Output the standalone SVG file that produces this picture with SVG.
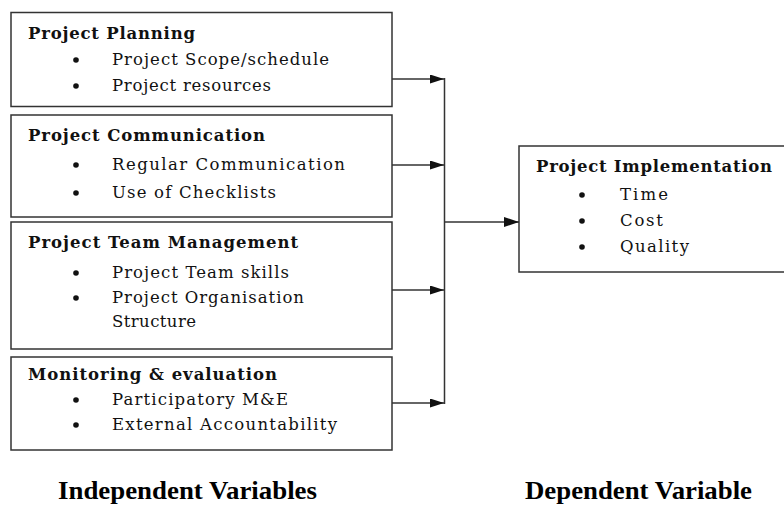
<svg xmlns="http://www.w3.org/2000/svg" width="784" height="506" viewBox="0 0 784 506">
<style>
.box{fill:#fff;stroke:#333;stroke-width:1.5}
.t{font-family:"DejaVu Serif","Liberation Serif",serif;font-size:16.5px;fill:#111}
.b{font-weight:bold}
.lbl{font-family:"Liberation Serif","Times New Roman",serif;font-size:25px;font-weight:bold;fill:#000}
.dot{fill:#111}
.ln{stroke:#333;stroke-width:1.5;fill:none}
</style>
<defs>
<marker id="ah" viewBox="0 0 14 9" refX="14" refY="4.5" markerWidth="14" markerHeight="9" markerUnits="userSpaceOnUse" orient="auto">
<path d="M0,0 L14,4.5 L0,9 z" fill="#111"/>
</marker>
<marker id="ah2" viewBox="0 0 15 10" refX="15" refY="5" markerWidth="15" markerHeight="10" markerUnits="userSpaceOnUse" orient="auto">
<path d="M0,0 L15,5 L0,10 z" fill="#111"/>
</marker>
</defs>
<rect width="784" height="506" fill="#fff"/>
<g id="planning">
<rect class="box" x="11" y="12.5" width="381" height="94"/>
<text class="t b" x="28" y="39" textLength="167" lengthAdjust="spacing">Project Planning</text>
<circle class="dot" cx="76" cy="60" r="2.8"/>
<text class="t" x="112" y="65" textLength="217" lengthAdjust="spacing">Project Scope/schedule</text>
<circle class="dot" cx="76" cy="86" r="2.8"/>
<text class="t" x="112" y="91" textLength="159" lengthAdjust="spacing">Project resources</text>
</g>
<g id="communication">
<rect class="box" x="11" y="115" width="381" height="102"/>
<text class="t b" x="28" y="141" textLength="237" lengthAdjust="spacing">Project Communication</text>
<circle class="dot" cx="76" cy="165" r="2.8"/>
<text class="t" x="112" y="170" textLength="233" lengthAdjust="spacing">Regular Communication</text>
<circle class="dot" cx="76" cy="193" r="2.8"/>
<text class="t" x="112" y="198" textLength="164" lengthAdjust="spacing">Use of Checklists</text>
</g>
<g id="team">
<rect class="box" x="11" y="222" width="381" height="127"/>
<text class="t b" x="28" y="248" textLength="270" lengthAdjust="spacing">Project Team Management</text>
<circle class="dot" cx="76" cy="273" r="2.8"/>
<text class="t" x="112" y="278" textLength="177" lengthAdjust="spacing">Project Team skills</text>
<circle class="dot" cx="76" cy="298" r="2.8"/>
<text class="t" x="112" y="303" textLength="192" lengthAdjust="spacing">Project Organisation</text>
<text class="t" x="112" y="327" textLength="84" lengthAdjust="spacing">Structure</text>
</g>
<g id="monitoring">
<rect class="box" x="11" y="357" width="381" height="93"/>
<text class="t b" x="28" y="380" textLength="249" lengthAdjust="spacing">Monitoring &amp; evaluation</text>
<circle class="dot" cx="76" cy="400" r="2.8"/>
<text class="t" x="112" y="405" textLength="176" lengthAdjust="spacing">Participatory M&amp;E</text>
<circle class="dot" cx="76" cy="425" r="2.8"/>
<text class="t" x="112" y="430" textLength="225" lengthAdjust="spacing">External Accountability</text>
</g>
<g id="implementation">
<rect class="box" x="519" y="146" width="280" height="126"/>
<text class="t b" x="536" y="172" textLength="236" lengthAdjust="spacing">Project Implementation</text>
<circle class="dot" cx="582" cy="195" r="2.8"/>
<text class="t" x="620" y="200" textLength="48" lengthAdjust="spacing">Time</text>
<circle class="dot" cx="582" cy="221" r="2.8"/>
<text class="t" x="620" y="226" textLength="43" lengthAdjust="spacing">Cost</text>
<circle class="dot" cx="582" cy="247" r="2.8"/>
<text class="t" x="620" y="252" textLength="69" lengthAdjust="spacing">Quality</text>
</g>
<g id="connectors">
<line class="ln" x1="392" y1="79" x2="444" y2="79" marker-end="url(#ah)"/>
<line class="ln" x1="392" y1="165" x2="444" y2="165" marker-end="url(#ah)"/>
<line class="ln" x1="392" y1="290" x2="444" y2="290" marker-end="url(#ah)"/>
<line class="ln" x1="392" y1="403" x2="444" y2="403" marker-end="url(#ah)"/>
<line class="ln" x1="444.5" y1="78" x2="444.5" y2="404"/>
<line class="ln" x1="444" y1="222" x2="519" y2="222" marker-end="url(#ah2)"/>
</g>
<g id="labels">
<text class="lbl" x="58" y="499" textLength="259" lengthAdjust="spacingAndGlyphs">Independent Variables</text>
<text class="lbl" x="525" y="499" textLength="227" lengthAdjust="spacingAndGlyphs">Dependent Variable</text>
</g>
</svg>
